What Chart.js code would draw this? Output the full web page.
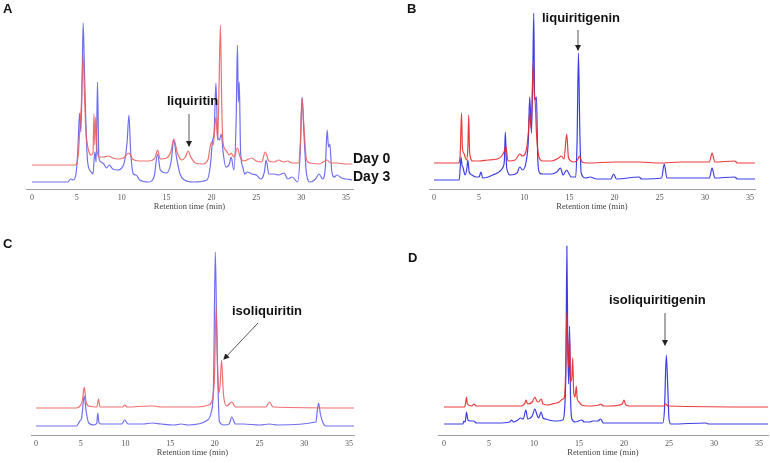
<!DOCTYPE html>
<html>
<head>
<meta charset="utf-8">
<script src="https://cdn.jsdelivr.net/npm/chart.js@4"></script>
<style>
  html, body { margin: 0; padding: 0; background: #fff; }
  #page { position: relative; width: 770px; height: 463px; overflow: hidden; }
  canvas { position: absolute; }
  .lbl { position: absolute; font: bold 13px "Liberation Sans", Arial, sans-serif; line-height: 13px; color: #111; white-space: nowrap; }
  .day { font-size: 14px; }
  svg { position: absolute; left: 0; top: 0; }
</style>
</head>
<body>
<div id="page">
  <canvas id="cA"></canvas>
  <canvas id="cB"></canvas>
  <canvas id="cC"></canvas>
  <canvas id="cD"></canvas>

  <div class="lbl" style="left:3px;top:2px">A</div>
  <div class="lbl" style="left:407px;top:2px">B</div>
  <div class="lbl" style="left:3px;top:237px">C</div>
  <div class="lbl" style="left:408px;top:251px">D</div>
  <div class="lbl day" style="left:353px;top:152px">Day 0</div>
  <div class="lbl day" style="left:353px;top:170px">Day 3</div>
  <div class="lbl" style="left:167px;top:94px">liquiritin</div>
  <div class="lbl" style="left:542px;top:11px">liquiritigenin</div>
  <div class="lbl" style="left:232px;top:304px">isoliquiritin</div>
  <div class="lbl" style="left:609px;top:293px">isoliquiritigenin</div>

  <svg width="770" height="463">
    <defs>
      <marker id="ah" markerWidth="6" markerHeight="6" refX="5" refY="3" orient="auto" markerUnits="userSpaceOnUse">
        <path d="M0,0 L6,3 L0,6 z" fill="#222"/>
      </marker>
    </defs>
    <g stroke="#555" stroke-width="1" fill="none">
      <line x1="189" y1="114" x2="189" y2="146" marker-end="url(#ah)"/>
      <line x1="578" y1="30" x2="578" y2="50" marker-end="url(#ah)"/>
      <line x1="258" y1="323" x2="224" y2="359" marker-end="url(#ah)"/>
      <line x1="665" y1="313" x2="665" y2="345" marker-end="url(#ah)"/>
    </g>
  </svg>
</div>
<script>
// Chromatogram traces: [retention time (min), detector signal above baseline]
// A - liquiritin
const aDay0 = [[0,0],[4.8,0],[5.0,2],[5.2,15],[5.35,40],[5.5,60],[5.7,110],[5.85,70],[6.0,35],[6.3,15],[6.6,10],[6.8,12],[6.9,51],[7.0,20],[7.1,48],[7.25,15],[7.5,8],[8.0,8],[8.5,9],[9.0,7],[9.5,6],[10.2,7],[10.8,12],[11.2,6],[12,4],[13,4],[13.7,7],[14.0,15],[14.3,6],[15.0,7],[15.5,14],[15.8,26],[16.2,12],[16.7,5],[17.1,8],[17.4,14],[17.7,8],[18.2,2],[19.0,1],[19.6,5],[20.0,23],[20.2,20],[20.5,48],[20.7,25],[20.85,80],[21.0,140],[21.15,60],[21.3,22],[21.6,15],[22.0,10],[22.2,12],[22.5,8],[22.9,17],[23.2,8],[23.6,4],[24.5,7],[25,4],[25.6,3],[26.0,13],[26.4,4],[27,3],[27.5,5],[28,3],[28.5,4],[29,2],[29.7,2],[29.9,20],[30.1,67],[30.3,40],[30.6,5],[31,2],[32,1],[32.9,5],[33.3,2],[34,2],[35,1],[35.7,1]];
const aDay3 = [[0,0],[4.0,0],[4.3,3],[4.6,2],[4.9,8],[5.1,30],[5.3,69],[5.45,50],[5.6,110],[5.7,159],[5.85,110],[6.0,60],[6.2,20],[6.6,10],[6.8,8],[7.0,30],[7.15,20],[7.3,100],[7.45,25],[7.7,20],[8.0,18],[8.3,14],[8.6,17],[9.0,13],[9.5,12],[10.2,17],[10.6,40],[10.8,67],[11.0,30],[11.3,8],[11.6,7],[12,2],[13,0],[13.6,5],[14.0,28],[14.3,12],[15.0,9],[15.5,20],[15.8,42],[16.1,25],[16.5,8],[17,2],[18,0],[19.5,2],[19.9,18],[20.1,40],[20.3,50],[20.5,99],[20.7,45],[20.9,42],[21.1,48],[21.3,30],[21.6,15],[22.0,18],[22.2,25],[22.5,12],[22.75,60],[22.9,137],[23.0,80],[23.1,100],[23.25,30],[23.5,15],[23.7,8],[24,10],[24.5,8],[25,7],[25.5,3],[25.9,10],[26.1,22],[26.4,8],[27,8],[27.5,7],[28.1,9],[28.5,3],[29,5],[29.6,0],[29.9,30],[30.1,85],[30.3,50],[30.6,8],[31,0],[31.6,3],[32,8],[32.4,3],[32.7,15],[32.9,52],[33.05,35],[33.2,38],[33.4,12],[33.7,5],[34,7],[34.5,4],[35,3],[35.7,2]];

// B - liquiritigenin
const bDay0 = [[0,0],[2.7,0],[2.9,8],[3.05,50],[3.15,15],[3.3,10],[3.6,3],[3.75,15],[3.85,48],[3.95,10],[4.3,2],[5,2],[6,3],[7,4],[7.5,7],[7.8,12],[7.95,17],[8.2,2],[9,3],[9.5,9],[9.8,7],[10.2,12],[10.45,30],[10.6,50],[10.75,35],[11.0,100],[11.1,70],[11.2,63],[11.35,30],[11.6,7],[12,2],[13,2],[13.8,5],[14.1,7],[14.4,4],[14.7,29],[14.9,5],[15.5,1],[15.9,3],[16.1,7],[16.4,1],[17,0],[20,1],[22.7,1],[25,0],[27.3,1],[30.5,1],[30.8,10],[31.1,1],[33.3,2],[33.6,0],[35.6,0]];
const bDay3 = [[0,0],[2.8,0],[3.0,23],[3.1,15],[3.2,13],[3.45,5],[3.65,12],[3.75,20],[3.9,8],[4.2,5],[4.6,3],[5.0,3],[5.2,8],[5.4,2],[6,3],[6.5,5],[7,7],[7.6,12],[7.8,20],[7.9,48],[8.05,12],[8.5,5],[9.2,7],[9.5,13],[9.8,10],[10.2,18],[10.45,40],[10.6,83],[10.8,47],[10.95,110],[11.05,167],[11.15,80],[11.35,83],[11.5,20],[11.7,7],[12,6],[13,6],[13.6,8],[14.0,12],[14.3,5],[14.7,10],[14.85,8],[15.2,3],[15.7,3],[15.85,40],[16.0,127],[16.15,50],[16.3,7],[16.8,2],[17.3,3],[18,1],[19.6,1],[19.9,6],[20.2,1],[22.7,3],[23,1],[25.2,2],[25.5,16],[25.8,2],[27.4,2],[30.5,2],[30.8,12],[31.1,2],[33.3,3],[33.6,1],[35.6,1]];

// C - isoliquiritin
const cDay0 = [[0,0],[4.5,0],[5.0,3],[5.2,8],[5.4,21],[5.6,6],[5.9,2],[6.8,1],[7.0,9],[7.15,1],[9.7,1],[9.9,3],[10.2,1],[12.5,2],[13.2,2],[14,1],[16,1],[18,1],[19.3,3],[19.7,8],[19.95,30],[20.15,102],[20.3,40],[20.45,15],[20.6,25],[20.75,48],[20.95,15],[21.3,2],[21.9,6],[22.3,1],[25.7,1],[26.1,6],[26.5,1],[35.6,0]];
const cDay3 = [[0,0],[4.5,0],[4.9,5],[5.1,8],[5.4,30],[5.6,15],[5.9,3],[6.5,1],[6.8,3],[6.9,13],[7.05,3],[7.3,2],[9.6,2],[9.9,6],[10.3,2],[12.0,2],[13,3],[14,2],[15.5,1],[16.2,2],[17,1],[19.2,6],[19.6,14],[19.85,40],[20.05,174],[20.2,100],[20.35,40],[20.5,5],[21,1],[21.6,2],[21.9,9],[22.3,2],[23.2,2],[25,1],[26.1,2],[27,1],[31.3,4],[31.45,15],[31.6,23],[31.8,12],[32.1,3],[32.4,0],[35.6,0]];

// D - isoliquiritigenin
const dDay0 = [[0,0],[2.3,0],[2.4,4],[2.5,10],[2.6,3],[3.1,1],[3.3,3],[3.6,1],[8.5,1],[9.0,4],[9.1,7],[9.3,3],[9.8,5],[10.1,10],[10.3,6],[10.5,5],[10.8,8],[11.0,3],[11.5,2],[12,3],[12.5,4],[12.8,5],[13.2,8],[13.35,9],[13.5,30],[13.65,94],[13.75,60],[13.85,40],[13.95,71],[14.05,25],[14.2,30],[14.3,49],[14.4,15],[14.55,10],[14.7,21],[14.8,8],[15.0,5],[15.3,2],[16,1],[17.2,2],[17.4,3],[17.7,1],[18.5,1],[19.8,3],[20.0,7],[20.2,2],[20.6,1],[24.4,1],[24.6,3],[24.9,1],[36,0]];
const dDay3 = [[0,0],[2.1,0],[2.2,3],[2.35,2],[2.5,12],[2.65,4],[3.0,3],[3.3,3],[3.6,1],[6,1],[7.3,2],[7.5,4],[7.7,2],[8.2,4],[8.5,6],[8.8,5],[9.1,14],[9.3,5],[9.8,8],[10.1,15],[10.3,10],[10.5,6],[10.8,12],[11.0,6],[11.3,5],[11.6,4],[12.5,3],[13.2,4],[13.4,15],[13.55,60],[13.65,178],[13.75,80],[13.85,40],[13.95,98],[14.05,30],[14.2,5],[14.6,2],[15.3,4],[15.6,2],[16.2,2],[16.5,3],[17.1,3],[17.4,5],[17.7,1],[19,1],[24.3,1],[24.5,15],[24.7,69],[24.85,40],[25.0,5],[25.2,0],[29.1,1],[29.4,0],[36,0]];

const xTicks = [0, 5, 10, 15, 20, 25, 30, 35];
const xTitle = 'Retention time (min)';

// panels A and C were printed paler than B and D
const pale = { red: 'rgba(240,95,95,0.9)', blue: 'rgba(95,95,240,0.9)' };
const deep = { red: 'rgba(232,40,40,0.9)', blue: 'rgba(40,40,228,0.9)' };

const panels = [
  { id: 'cA', left: 0,   top: 0,   w: 385, h: 215, padL: 26, padR: 32, xMin: -0.67, xMax: 35.78, red: aDay0, blue: aDay3, redOff: 24, blueOff: 7,  col: pale },
  { id: 'cB', left: 385, top: 0,   w: 385, h: 215, padL: 44, padR: 15, xMin: -0.55, xMax: 35.55, red: bDay0, blue: bDay3, redOff: 26, blueOff: 9,  col: deep },
  { id: 'cC', left: 0,   top: 230, w: 385, h: 231, padL: 31, padR: 31, xMin: -0.56, xMax: 35.56, red: cDay0, blue: cDay3, redOff: 27, blueOff: 9,  col: pale },
  { id: 'cD', left: 385, top: 230, w: 385, h: 231, padL: 53, padR: 2,  xMin: -0.67, xMax: 36.0,  red: dDay0, blue: dDay3, redOff: 28, blueOff: 11, col: deep },
];

const AXIS_H = 26, PAD_TOP = 10;

function trace(pairs, off) {
  return pairs.map(([t, v]) => ({ x: t, y: v + off }));
}

panels.forEach(p => {
  const cv = document.getElementById(p.id);
  cv.width = p.w; cv.height = p.h;
  cv.style.left = p.left + 'px'; cv.style.top = p.top + 'px';
  cv.style.width = p.w + 'px'; cv.style.height = p.h + 'px';

  const line = { borderWidth: 1.2, pointRadius: 0, cubicInterpolationMode: 'monotone' };

  new Chart(cv.getContext('2d'), {
    type: 'line',
    data: {
      datasets: [
        { label: 'Day 0', data: trace(p.red, p.redOff), borderColor: p.col.red, ...line },
        { label: 'Day 3', data: trace(p.blue, p.blueOff), borderColor: p.col.blue, ...line },
      ]
    },
    options: {
      responsive: false,
      animation: false,
      devicePixelRatio: 1,
      layout: { padding: { left: p.padL, right: p.padR, top: PAD_TOP, bottom: 0 } },
      plugins: { legend: { display: false }, tooltip: { enabled: false } },
      scales: {
        x: {
          type: 'linear', min: p.xMin, max: p.xMax,
          afterBuildTicks: s => { s.ticks = xTicks.map(v => ({ value: v })); },
          afterFit: s => { s.height = AXIS_H; },
          ticks: { includeBounds: false, padding: 4, color: '#555', font: { family: 'Liberation Serif', size: 8 } },
          grid: { display: false, drawTicks: false },
          border: { display: true, color: '#a0a0a0', width: 1 },
          title: { display: true, text: xTitle, color: '#444', padding: { top: 0, bottom: 3 }, font: { family: 'Liberation Serif', size: 8.5 } }
        },
        y: { display: false, min: 0, max: p.h - AXIS_H - PAD_TOP }
      }
    }
  });
});
</script>
</body>
</html>
